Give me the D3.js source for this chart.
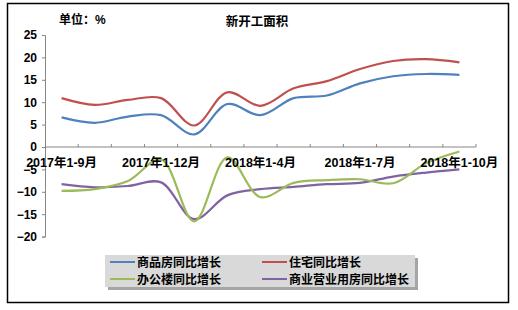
<!DOCTYPE html>
<html><head><meta charset="utf-8">
<script src="https://cdn.jsdelivr.net/npm/d3@7"></script>
<style>
body{margin:0;background:#fff;}
text{font-family:"Liberation Sans","Noto Sans CJK SC",Arial,sans-serif;font-weight:bold;fill:#000;}
</style></head><body>
<svg id="c" width="518" height="310"></svg>
<script>
const categories = ["2017年1-9月","2017年1-10月","2017年1-11月","2017年1-12月","2018年1-2月","2018年1-3月","2018年1-4月","2018年1-5月","2018年1-6月","2018年1-7月","2018年1-8月","2018年1-9月","2018年1-10月"];
const shownLabels = ["2017年1-9月","2017年1-12月","2018年1-4月","2018年1-7月","2018年1-10月"];
const seriesNames = ["商品房同比增长","住宅同比增长","办公楼同比增长","商业营业用房同比增长"];
const commodity = [6.6, 5.4, 6.8, 7.1, 2.8, 9.6, 7.1, 10.9, 11.5, 14.2, 15.8, 16.3, 16.1];
const residential = [10.9, 9.4, 10.5, 10.9, 4.8, 12.2, 9.2, 13.1, 14.7, 17.4, 19.2, 19.6, 18.9];
const office = [-9.8, -9.4, -7.6, -2.8, -16.6, -2.3, -11.2, -8.0, -7.4, -7.2, -8.1, -3.6, -1.0];
const commercial = [-8.3, -9.0, -8.7, -7.9, -16.1, -10.8, -9.4, -8.9, -8.3, -8.0, -6.6, -5.7, -5.0];
const yTicks = [-20, -15, -10, -5, 0, 5, 10, 15, 20, 25];
const colors = ["#4f81bd", "#c0504d", "#9bbb59", "#8064a2"];
const allSeries = [commodity, residential, office, commercial];

const svg = d3.select("#c");
svg.append("rect").attr("x",7.5).attr("y",3.5).attr("width",501).attr("height",299)
  .attr("fill","#fff").attr("stroke","#000").attr("stroke-width",1.5);

const x = d3.scaleBand().domain(categories).range([45, 476]);
const y = d3.scaleLinear().domain([-20, 25]).range([236.6, 35]);

// y axis
const ya = svg.append("g").attr("transform","translate(45,0)")
  .call(d3.axisLeft(y).tickValues(yTicks).tickSize(3).tickPadding(5));
ya.select(".domain").attr("stroke","#868686");
ya.selectAll(".tick line").attr("stroke","#868686");
ya.selectAll("text").attr("font-size",12).attr("font-weight","bold")
  .attr("font-family","'Liberation Sans',Arial,sans-serif").attr("fill","#000");

// x axis line at zero
const x0 = y(0);
svg.append("line").attr("x1",45).attr("x2",476).attr("y1",x0).attr("y2",x0).attr("stroke","#868686");
categories.forEach((c,i)=>{
  const xx = x(c) + x.bandwidth();
  svg.append("line").attr("x1",xx).attr("x2",xx).attr("y1",x0-3).attr("y2",x0).attr("stroke","#868686");
});

// lines
const line = d3.line().x((d,i)=>x(categories[i])+x.bandwidth()/2).y(d=>y(d)).curve(d3.curveCatmullRom.alpha(0.5));
const order = [0,1,3,2];
order.forEach(k=>{
  svg.append("path").datum(allSeries[k]).attr("d",line).attr("fill","none")
    .attr("stroke",colors[k]).attr("stroke-width",2.2);
});

// x labels
shownLabels.forEach(l=>{
  svg.append("text").attr("x",x(l)+x.bandwidth()/2).attr("y",167)
    .attr("text-anchor","middle").attr("font-size",12.5).text(l);
});

// title + unit
svg.append("text").attr("x",59).attr("y",24).attr("font-size",12).text("单位：%");
svg.append("text").attr("x",257).attr("y",26).attr("text-anchor","middle").attr("font-size",12.5).text("新开工面积");

// legend
svg.append("rect").attr("x",108).attr("y",258).attr("width",310).attr("height",32).attr("fill","#7f7f7f").attr("opacity",0.7);
svg.append("rect").attr("x",105).attr("y",255).attr("width",310).attr("height",32).attr("fill","#d9d9d9");
const lpos = [[110,262],[262,262],[110,279],[262,279]];
seriesNames.forEach((n,i)=>{
  const [lx,ly] = lpos[i];
  svg.append("line").attr("x1",lx).attr("x2",lx+25).attr("y1",ly).attr("y2",ly).attr("stroke",colors[i]).attr("stroke-width",2);
  svg.append("text").attr("x",lx+27).attr("y",ly+4.5).attr("font-size",12).text(n);
});
</script></body></html>
